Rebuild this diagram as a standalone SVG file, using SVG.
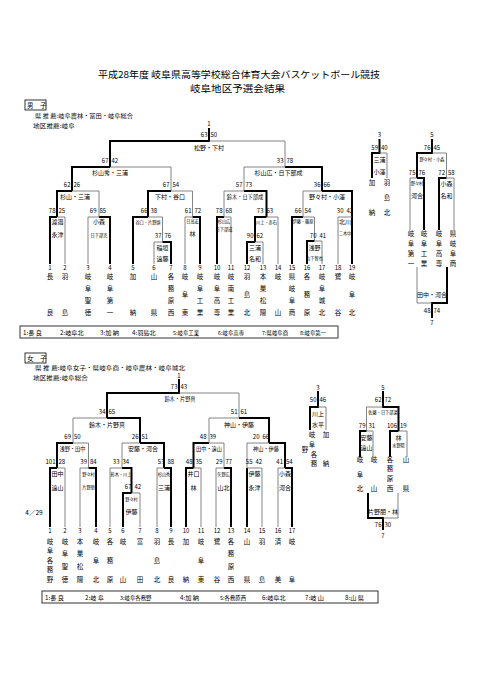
<svg xmlns="http://www.w3.org/2000/svg" width="481" height="680" viewBox="0 0 481 680">
<style>
text{font-family:"Noto Sans CJK JP","Noto Sans CJK SC",sans-serif;fill:#000;text-anchor:middle}
.ti{font-size:9.5px}
.hd{font-size:5.5px;text-anchor:start}
.sl{font-size:6px;text-anchor:end}
.sr{font-size:6px;text-anchor:start}
.lb{font-size:6px}
.ls{font-size:5.2px}
.tn{font-size:4.2px}
.nm{font-size:6.5px}
.no{font-size:6px}
.rs{font-size:6.2px;text-anchor:start}
.rt{font-size:5.4px;text-anchor:start}
.k{stroke:#000;stroke-width:2;fill:none}
.h{stroke:#666;stroke-width:0.8;fill:none}
.bx{stroke:#000;stroke-width:0.8;fill:none}
</style>
<rect width="481" height="680" fill="#fff"/>
<g id="title">
<text class="ti" x="239" y="78" textLength="282" lengthAdjust="spacingAndGlyphs">平成28年度 岐阜県高等学校総合体育大会バスケットボール競技</text>
<text class="ti" x="237.5" y="91.5" textLength="95" lengthAdjust="spacingAndGlyphs">岐阜地区予選会結果</text>
</g>
<g id="boys-header">
<rect class="bx" x="25" y="100" width="21" height="10"/>
<text class="hd" x="27" y="107.5" style="font-size:6.5px">男　子</text>
<text class="hd" x="35" y="118" textLength="98" lengthAdjust="spacingAndGlyphs">県 推 薦:岐阜農林・富田・岐阜総合</text>
<text class="hd" x="33" y="128" textLength="42" lengthAdjust="spacingAndGlyphs">地区推薦:岐阜</text>
</g>
<g id="girls-header">
<rect class="bx" x="25" y="353" width="21" height="10"/>
<text class="hd" x="27" y="360.5" style="font-size:6.5px">女　子</text>
<text class="hd" x="35" y="369.5" textLength="150" lengthAdjust="spacingAndGlyphs">県 推 薦:岐阜女子・県岐阜商・岐阜農林・岐阜城北</text>
<text class="hd" x="33" y="379.5" textLength="55" lengthAdjust="spacingAndGlyphs">地区推薦:岐阜総合</text>
</g>
<g id="connectors">
<path class="k" d="M50 264V217H57M110 264V217H99M171 264V242H162.5M133 264V217H148M200 264V217H192.5M217 264V217H224M247 264V242H255M255 242V217H266.5M307 264V241H314.5M292 264V217H303M352 264V191H322M57 217V191H72M148 217V191H171M266.5 217V191H244M72 191V167H110M322 191V167H285M110 167V141H209V128"/>
<path class="h" d="M57 217H65V264M99 217H88V264M162.5 242H154V264M148 217H162.5V242M192.5 217H185V264M224 217H231V264M255 242H263V264M266.5 217H278V264M314.5 241H322V264M303 217H314.5V241M352 217H338V264M72 191H99V217M171 191H192.5V217M244 191H224V217M322 191H303V217M110 167H171V191M285 167H244V191M209 141H285V167"/>
<path class="k" d="M372 178V153H379.5V139M424 230V178H417M439 230V178H446.5M417 178V153H432V139M447 267V303H432V318"/>
<path class="h" d="M379.5 153H387V178M417 178H410V230M446.5 178H454V230M432 153H446.5V178M417 267V303H432"/>
<path class="k" d="M50 527V468H57M96 527V468H88.5M123 527V493H131.5M131.5 493V468H122M171 527V468H164M57 468V443H73M164 468V443H140M140 443V418H107M186 527V468H193.5M231 527V468H224M193.5 468V443H209M247 527V468M292 527V468H285M285 468V443H269M269 443V418H239M107 418V393H179V379"/>
<path class="h" d="M57 468H65V527M88.5 468H80V527M131.5 493H140V527M122 468H110V527M164 468H157V527M73 443H88.5V468M140 443H122V468M107 418H73V443M193.5 468H201V527M224 468H216V527M209 443H224V468M247 468H262V527M285 468H278V527M269 443H247V468M239 418H209V443M179 393H239V418"/>
<path class="k" d="M310 430V407H318V391M360 457V431H366.5M390 457V431H398.5M398.5 431V407H383V391M368 493V518H383V530"/>
<path class="h" d="M318 407H326V430M366.5 431H373V457M398.5 431H407V457M383 407H366.5V431M398 493V518H383"/>
</g>
<g id="boys-games">
<g id="b-final"><text class="no" x="209" y="126">1</text><text class="sl" x="207.5" y="137">63</text><text class="sr" x="210.5" y="137">50</text><text class="lb" x="209" y="149.5">松野・下村</text></g>
<g id="b-sf1"><text class="sl" x="108.5" y="163">67</text><text class="sr" x="111.5" y="163">42</text><text class="lb" x="110" y="174.5">杉山秀・三浦</text></g>
<g id="b-sf2"><text class="sl" x="283.5" y="163">33</text><text class="sr" x="286.5" y="163">78</text><text class="lb" x="278.5" y="174.5">杉山広・日下部成</text></g>
<g id="b-qf1"><text class="sl" x="70.5" y="187">62</text><text class="sr" x="73.5" y="187">26</text><text class="lb" x="75" y="199">杉山・三浦</text></g>
<g id="b-qf2"><text class="sl" x="169.5" y="187">67</text><text class="sr" x="172.5" y="187">54</text><text class="lb" x="170" y="199">下村・谷口</text></g>
<g id="b-qf3"><text class="sl" x="242.5" y="187">57</text><text class="sr" x="245.5" y="187">73</text><text class="ls" x="245" y="198.8">鈴木・日下部成</text></g>
<g id="b-qf4"><text class="sl" x="320.5" y="187">36</text><text class="sr" x="323.5" y="187">66</text><text class="lb" x="327" y="199">野々村・小澤</text></g>
<g id="b-r1"><text class="sl" x="55.5" y="213">78</text><text class="sr" x="58.5" y="213">25</text><text class="lb" x="57.5" y="224">渡邉</text><text class="lb" x="57.5" y="237">永津</text></g>
<g id="b-r2"><text class="sl" x="96.5" y="213">69</text><text class="sr" x="99.5" y="213">85</text><text class="lb" x="99" y="224">小森</text><text class="tn" x="99" y="237">日下部克</text></g>
<g id="b-r3"><text class="sl" x="147.5" y="213">66</text><text class="sr" x="150.5" y="213">38</text><text class="tn" x="148" y="223.5">谷口・片野頭</text></g>
<g id="b-r4"><text class="sl" x="161.5" y="237.5">37</text><text class="sr" x="164.5" y="237.5">76</text><text class="lb" x="162.5" y="250">稲垣</text><text class="lb" x="162.5" y="260.5">遠藤</text></g>
<g id="b-r5"><text class="sl" x="191.5" y="213">61</text><text class="sr" x="194.5" y="213">72</text><text class="tn" x="192.5" y="223">日高宏</text><text class="lb" x="192.5" y="236">林</text></g>
<g id="b-r6"><text class="sl" x="222.5" y="213">78</text><text class="sr" x="225.5" y="213">68</text><text class="tn" x="224" y="223">杉山広</text><text class="tn" x="224" y="231">日下部成</text></g>
<g id="b-r7"><text class="sl" x="253.5" y="237.5">90</text><text class="sr" x="256.5" y="237.5">62</text><text class="lb" x="255" y="250">三浦</text><text class="lb" x="255" y="260.5">名和</text></g>
<g id="b-r8"><text class="sl" x="263.5" y="213">73</text><text class="sr" x="266.5" y="213">63</text><text class="tn" x="266.5" y="223.5">川上・赤石</text></g>
<g id="b-r9"><text class="sl" x="301.5" y="213">66</text><text class="sr" x="304.5" y="213">54</text><text class="tn" x="303" y="223">伊藤・篠原</text></g>
<g id="b-r10"><text class="sl" x="316.5" y="237.5">70</text><text class="sr" x="319.5" y="237.5">41</text><text class="lb" x="314.5" y="250">浅野</text><text class="tn" x="314.5" y="260">山下智也</text></g>
<g id="b-r11"><text class="sl" x="343.5" y="213">30</text><text class="sr" x="346.5" y="213">42</text><text class="lb" x="345" y="224">北川</text><text class="tn" x="345" y="235">二木中</text></g>
<g id="b-3rd"><text class="no" x="379.5" y="137">3</text><text class="sl" x="378" y="150">59</text><text class="sr" x="381" y="150">40</text><text class="lb" x="379.5" y="161.5">三浦</text><text class="lb" x="379.5" y="173.5">小澤</text></g>
<g id="b-5th"><text class="no" x="432" y="137">5</text><text class="sl" x="430.5" y="150">76</text><text class="sr" x="433.5" y="150">45</text><text class="tn" x="432" y="160.5">野々村・小森</text></g>
<g id="b-5a"><text class="sl" x="415.5" y="174.5">75</text><text class="sr" x="418.5" y="174.5">76</text><text class="tn" x="417" y="184.5">野々村</text><text class="lb" x="417" y="197.5">河合</text></g>
<g id="b-5b"><text class="sl" x="445" y="174.5">72</text><text class="sr" x="448" y="174.5">58</text><text class="lb" x="446.5" y="185.5">小森</text><text class="lb" x="446.5" y="197.5">名和</text></g>
<g id="b-7th"><text class="lb" x="432" y="297">田中・河合</text><text class="sl" x="430.5" y="313">48</text><text class="sr" x="433.5" y="313">74</text><text class="no" x="432" y="324.5">7</text></g>
</g>
<g id="boys-teams">
<g id="bt1"><text class="no" x="50" y="269.5">1</text><text class="nm"><tspan x="50" y="278.5">長</tspan><tspan x="50" y="314.5">良</tspan></text></g>
<g id="bt2"><text class="no" x="65" y="269.5">2</text><text class="nm"><tspan x="65" y="278.5">羽</tspan><tspan x="65" y="314.5">島</tspan></text></g>
<g id="bt3"><text class="no" x="88" y="269.5">3</text><text class="nm"><tspan x="88" y="278.5">岐</tspan><tspan x="88" y="290.5">阜</tspan><tspan x="88" y="302.5">聖</tspan><tspan x="88" y="314.5">徳</tspan></text></g>
<g id="bt4"><text class="no" x="110" y="269.5">4</text><text class="nm"><tspan x="110" y="278.5">岐</tspan><tspan x="110" y="290.5">阜</tspan><tspan x="110" y="302.5">第</tspan><tspan x="110" y="314.5">一</tspan></text></g>
<g id="bt5"><text class="no" x="133" y="269.5">5</text><text class="nm"><tspan x="133" y="278.5">加</tspan><tspan x="133" y="314.5">納</tspan></text></g>
<g id="bt6"><text class="no" x="154" y="269.5">6</text><text class="nm"><tspan x="154" y="278.5">山</tspan><tspan x="154" y="314.5">県</tspan></text></g>
<g id="bt7"><text class="no" x="171" y="269.5">7</text><text class="nm"><tspan x="171" y="278.5">各</tspan><tspan x="171" y="290.5">務</tspan><tspan x="171" y="302.5">原</tspan><tspan x="171" y="314.5">西</tspan></text></g>
<g id="bt8"><text class="no" x="185" y="269.5">8</text><text class="nm"><tspan x="185" y="278.5">岐</tspan><tspan x="185" y="296.5">阜</tspan><tspan x="185" y="314.5">東</tspan></text></g>
<g id="bt9"><text class="no" x="200" y="269.5">9</text><text class="nm"><tspan x="200" y="278.5">岐</tspan><tspan x="200" y="290.5">阜</tspan><tspan x="200" y="302.5">工</tspan><tspan x="200" y="314.5">業</tspan></text></g>
<g id="bt10"><text class="no" x="217" y="269.5">10</text><text class="nm"><tspan x="217" y="278.5">岐</tspan><tspan x="217" y="290.5">阜</tspan><tspan x="217" y="302.5">高</tspan><tspan x="217" y="314.5">専</tspan></text></g>
<g id="bt11"><text class="no" x="231" y="269.5">11</text><text class="nm"><tspan x="231" y="278.5">岐</tspan><tspan x="231" y="290.5">南</tspan><tspan x="231" y="302.5">工</tspan><tspan x="231" y="314.5">業</tspan></text></g>
<g id="bt12"><text class="no" x="247" y="269.5">12</text><text class="nm"><tspan x="247" y="278.5">羽</tspan><tspan x="247" y="296.5">島</tspan><tspan x="247" y="314.5">北</tspan></text></g>
<g id="bt13"><text class="no" x="263" y="269.5">13</text><text class="nm"><tspan x="263" y="278.5">本</tspan><tspan x="263" y="290.5">巣</tspan><tspan x="263" y="302.5">松</tspan><tspan x="263" y="314.5">陽</tspan></text></g>
<g id="bt14"><text class="no" x="278" y="269.5">14</text><text class="nm"><tspan x="278" y="278.5">岐</tspan><tspan x="278" y="314.5">山</tspan></text></g>
<g id="bt15"><text class="no" x="292" y="269.5">15</text><text class="nm"><tspan x="292" y="278.5">県</tspan><tspan x="292" y="290.5">岐</tspan><tspan x="292" y="302.5">阜</tspan><tspan x="292" y="314.5">商</tspan></text></g>
<g id="bt16"><text class="no" x="307" y="269.5">16</text><text class="nm"><tspan x="307" y="278.5">各</tspan><tspan x="307" y="296.5">務</tspan><tspan x="307" y="314.5">原</tspan></text></g>
<g id="bt17"><text class="no" x="322" y="269.5">17</text><text class="nm"><tspan x="322" y="278.5">岐</tspan><tspan x="322" y="290.5">阜</tspan><tspan x="322" y="302.5">城</tspan><tspan x="322" y="314.5">北</tspan></text></g>
<g id="bt18"><text class="no" x="338" y="269.5">18</text><text class="nm"><tspan x="338" y="278.5">鷺</tspan><tspan x="338" y="314.5">谷</tspan></text></g>
<g id="bt19"><text class="no" x="352" y="269.5">19</text><text class="nm"><tspan x="352" y="278.5">岐</tspan><tspan x="352" y="296.5">阜</tspan><tspan x="352" y="314.5">北</tspan></text></g>
<g id="bt-3rd"><text class="nm"><tspan x="372" y="184.5">加</tspan><tspan x="372" y="214.5">納</tspan><tspan x="387" y="184.5">羽</tspan><tspan x="387" y="199.5">島</tspan><tspan x="387" y="214.5">北</tspan></text></g>
<g id="bt-5th"><text class="nm"><tspan x="411" y="235.5">岐</tspan><tspan x="411" y="245.5">阜</tspan><tspan x="411" y="255.5">第</tspan><tspan x="411" y="265.5">一</tspan><tspan x="424" y="235.5">岐</tspan><tspan x="424" y="245.5">阜</tspan><tspan x="424" y="255.5">工</tspan><tspan x="424" y="265.5">業</tspan><tspan x="439" y="235.5">岐</tspan><tspan x="439" y="245.5">阜</tspan><tspan x="439" y="255.5">高</tspan><tspan x="439" y="265.5">専</tspan><tspan x="453" y="235.5">県</tspan><tspan x="453" y="245.5">岐</tspan><tspan x="453" y="255.5">阜</tspan><tspan x="453" y="265.5">商</tspan></text></g>
</g>
<g id="boys-results">
<rect class="bx" x="20" y="326" width="318" height="12"/>
<text class="rs" x="23" y="334.5">1:長 良</text>
<text class="rs" x="60" y="334.5">2:岐阜北</text>
<text class="rs" x="100" y="334.5">3:加 納</text>
<text class="rs" x="132" y="334.5">4:羽島北</text>
<text class="rt" x="173" y="334.5">5:岐阜工業</text>
<text class="rt" x="218" y="334.5">6:岐阜高専</text>
<text class="rt" x="262" y="334.5">7:県岐阜商</text>
<text class="rt" x="300" y="334.5">8:岐阜第一</text>
</g>
<g id="girls-games">
<g id="g-final"><text class="no" x="179" y="377.5">1</text><text class="sl" x="177.5" y="389">73</text><text class="sr" x="180.5" y="389">43</text><text class="ls" x="180" y="400.5">鈴木・片野真</text></g>
<g id="g-sf1"><text class="sl" x="105.5" y="414">34</text><text class="sr" x="108.5" y="414">65</text><text class="lb" x="107" y="427">鈴木・片野真</text></g>
<g id="g-sf2"><text class="sl" x="237.5" y="414">51</text><text class="sr" x="240.5" y="414">61</text><text class="lb" x="239" y="426.5">神山・伊藤</text></g>
<g id="g-qf1"><text class="sl" x="71" y="439">69</text><text class="sr" x="74" y="439">50</text><text class="ls" x="72.5" y="451">浅野・田中</text></g>
<g id="g-qf2"><text class="sl" x="138.5" y="439">26</text><text class="sr" x="141.5" y="439">51</text><text class="lb" x="143" y="451">安藤・河合</text></g>
<g id="g-qf3"><text class="sl" x="206.5" y="439">48</text><text class="sr" x="209.5" y="439">39</text><text class="ls" x="209" y="451">田中・遠山</text></g>
<g id="g-qf4"><text class="sl" x="259.5" y="439">20</text><text class="sr" x="262.5" y="439">66</text><text class="ls" x="266" y="451">神山・伊藤</text></g>
<g id="g-r1"><text class="sl" x="55.5" y="464">101</text><text class="sr" x="58.5" y="464">28</text><text class="lb" x="57.5" y="475.5">田中</text><text class="lb" x="57.5" y="489.5">遠山</text></g>
<g id="g-r2"><text class="sl" x="87" y="464">39</text><text class="sr" x="90" y="464">84</text><text class="tn" x="88.5" y="475.5">野々村</text><text class="tn" x="88.5" y="489">片野朋</text></g>
<g id="g-r3"><text class="sl" x="119.5" y="464">33</text><text class="sr" x="122.5" y="464">34</text><text class="tn" x="121" y="475.5">鈴木・川上</text></g>
<g id="g-r4"><text class="sl" x="131.5" y="489">67</text><text class="sr" x="134.5" y="489">42</text><text class="tn" x="131.5" y="500.5">野々村</text><text class="lb" x="131.5" y="513.5">伊藤</text></g>
<g id="g-r5"><text class="sl" x="164.5" y="464">53</text><text class="sr" x="167.5" y="464">88</text><text class="tn" x="164" y="475.5">杉山秀</text><text class="lb" x="164" y="489.5">三浦</text></g>
<g id="g-r6"><text class="sl" x="192.5" y="464">48</text><text class="sr" x="195.5" y="464">35</text><text class="lb" x="193.5" y="475.5">井口</text><text class="lb" x="193.5" y="489.5">林</text></g>
<g id="g-r7"><text class="sl" x="222.5" y="464">29</text><text class="sr" x="225.5" y="464">77</text><text class="tn" x="223.5" y="475.5">矢野広</text><text class="lb" x="223.5" y="489.5">山北</text></g>
<g id="g-r8"><text class="sl" x="252.5" y="464">55</text><text class="sr" x="255.5" y="464">42</text><text class="lb" x="254.5" y="475.5">伊藤</text><text class="lb" x="254.5" y="489.5">永津</text></g>
<g id="g-r9"><text class="sl" x="283" y="464">41</text><text class="sr" x="286" y="464">54</text><text class="lb" x="285" y="475.5">小森</text><text class="lb" x="285" y="489.5">河合</text></g>
<g id="g-3rd"><text class="no" x="318" y="390">3</text><text class="sl" x="316.5" y="401.5">50</text><text class="sr" x="319.5" y="401.5">46</text><text class="lb" x="318" y="415.5">川上</text><text class="lb" x="318" y="426.5">水平</text></g>
<g id="g-5th"><text class="no" x="383" y="390">5</text><text class="sl" x="381.5" y="401.5">62</text><text class="sr" x="384.5" y="401.5">72</text><text class="tn" x="383" y="413.5">佐藤・日下部菜</text></g>
<g id="g-5a"><text class="sl" x="365.5" y="427.5">79</text><text class="sr" x="368.5" y="427.5">31</text><text class="lb" x="366.5" y="439.5">安藤</text><text class="lb" x="366.5" y="449.5">遠山</text></g>
<g id="g-5b"><text class="sl" x="397" y="427.5">106</text><text class="sr" x="400" y="427.5">19</text><text class="lb" x="398.5" y="439.5">林</text><text class="tn" x="398.5" y="446.5">水野陽</text></g>
<g id="g-7th"><text class="lb" x="383" y="514">片野朋・林</text><text class="sl" x="381.5" y="526.5">76</text><text class="sr" x="384.5" y="526.5">30</text><text class="no" x="383" y="537.5">7</text></g>
</g>
<text class="nm" x="34" y="514.5">4／29</text>
<g id="girls-teams">
<g id="gt1"><text class="no" x="50" y="533">1</text><text class="nm"><tspan x="50" y="543.5">岐</tspan><tspan x="50" y="553">阜</tspan><tspan x="50" y="562.5">各</tspan><tspan x="50" y="572">務</tspan><tspan x="50" y="581.5">野</tspan></text></g>
<g id="gt2"><text class="no" x="65" y="533">2</text><text class="nm"><tspan x="65" y="543.5">岐</tspan><tspan x="65" y="556.2">阜</tspan><tspan x="65" y="568.8">聖</tspan><tspan x="65" y="581.5">徳</tspan></text></g>
<g id="gt3"><text class="no" x="80" y="533">3</text><text class="nm"><tspan x="80" y="543.5">本</tspan><tspan x="80" y="556.2">巣</tspan><tspan x="80" y="568.8">松</tspan><tspan x="80" y="581.5">陽</tspan></text></g>
<g id="gt4"><text class="no" x="96" y="533">4</text><text class="nm"><tspan x="96" y="543.5">岐</tspan><tspan x="96" y="562.5">阜</tspan><tspan x="96" y="581.5">北</tspan></text></g>
<g id="gt5"><text class="no" x="110" y="533">5</text><text class="nm"><tspan x="110" y="543.5">各</tspan><tspan x="110" y="562.5">務</tspan><tspan x="110" y="581.5">原</tspan></text></g>
<g id="gt6"><text class="no" x="123" y="533">6</text><text class="nm"><tspan x="123" y="543.5">岐</tspan><tspan x="123" y="581.5">山</tspan></text></g>
<g id="gt7"><text class="no" x="140" y="533">7</text><text class="nm"><tspan x="140" y="543.5">富</tspan><tspan x="140" y="581.5">田</tspan></text></g>
<g id="gt8"><text class="no" x="157" y="533">8</text><text class="nm"><tspan x="157" y="543.5">羽</tspan><tspan x="157" y="562.5">島</tspan><tspan x="157" y="581.5">北</tspan></text></g>
<g id="gt9"><text class="no" x="171" y="533">9</text><text class="nm"><tspan x="171" y="543.5">長</tspan><tspan x="171" y="581.5">良</tspan></text></g>
<g id="gt10"><text class="no" x="186" y="533">10</text><text class="nm"><tspan x="186" y="543.5">加</tspan><tspan x="186" y="581.5">納</tspan></text></g>
<g id="gt11"><text class="no" x="201" y="533">11</text><text class="nm"><tspan x="201" y="543.5">岐</tspan><tspan x="201" y="562.5">阜</tspan><tspan x="201" y="581.5">東</tspan></text></g>
<g id="gt12"><text class="no" x="217" y="533">12</text><text class="nm"><tspan x="217" y="543.5">鷺</tspan><tspan x="217" y="581.5">谷</tspan></text></g>
<g id="gt13"><text class="no" x="231" y="533">13</text><text class="nm"><tspan x="231" y="543.5">各</tspan><tspan x="231" y="556.2">務</tspan><tspan x="231" y="568.8">原</tspan><tspan x="231" y="581.5">西</tspan></text></g>
<g id="gt14"><text class="no" x="247" y="533">14</text><text class="nm"><tspan x="247" y="543.5">山</tspan><tspan x="247" y="581.5">県</tspan></text></g>
<g id="gt15"><text class="no" x="262" y="533">15</text><text class="nm"><tspan x="262" y="543.5">羽</tspan><tspan x="262" y="581.5">島</tspan></text></g>
<g id="gt16"><text class="no" x="278" y="533">16</text><text class="nm"><tspan x="278" y="543.5">済</tspan><tspan x="278" y="581.5">美</tspan></text></g>
<g id="gt17"><text class="no" x="292" y="533">17</text><text class="nm"><tspan x="292" y="543.5">岐</tspan><tspan x="292" y="581.5">阜</tspan></text></g>
<g id="gt-3rd"><text class="nm"><tspan x="312" y="437.4">岐</tspan><tspan x="312" y="447.4">阜</tspan><tspan x="305" y="452.4">野</tspan><tspan x="314" y="457.4">各</tspan><tspan x="314" y="466.4">務</tspan><tspan x="326" y="437.4">加</tspan><tspan x="326" y="466.4">納</tspan></text></g>
<g id="gt-5th"><text class="nm"><tspan x="360" y="462.4">岐</tspan><tspan x="360" y="477.4">阜</tspan><tspan x="360" y="491.4">北</tspan><tspan x="374" y="462.4">岐</tspan><tspan x="374" y="491.4">山</tspan><tspan x="390" y="462.4">各</tspan><tspan x="390" y="471.4">務</tspan><tspan x="390" y="481.4">原</tspan><tspan x="390" y="491.4">西</tspan><tspan x="406" y="462.4">山</tspan><tspan x="406" y="491.4">県</tspan></text></g>
</g>
<g id="girls-results">
<rect class="bx" x="42" y="591" width="336" height="12"/>
<text class="rs" x="45" y="599.5">1:長 良</text>
<text class="rs" x="85" y="599.5">2:岐 阜</text>
<text class="rt" x="120" y="599.5">3:岐阜各務野</text>
<text class="rs" x="180" y="599.5">4:加 納</text>
<text class="rt" x="220" y="599.5">5:各務原西</text>
<text class="rs" x="262" y="599.5">6:岐阜北</text>
<text class="rs" x="305" y="599.5">7:岐 山</text>
<text class="rs" x="345" y="599.5">8:山 県</text>
</g>
</svg>
